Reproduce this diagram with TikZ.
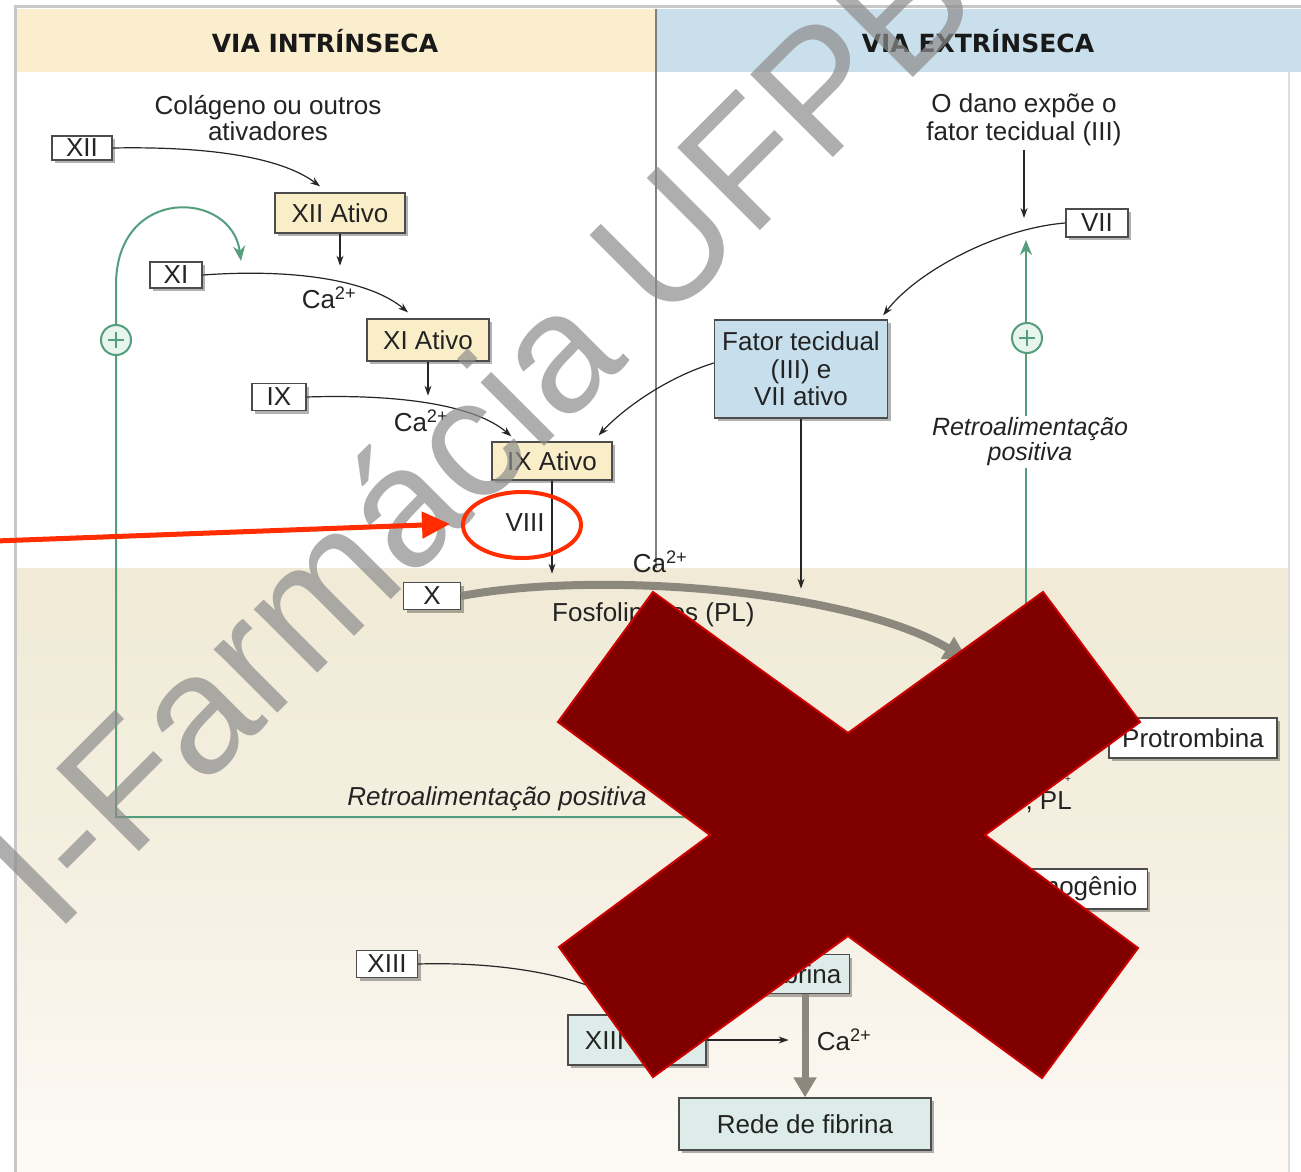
\documentclass[tikz,border=0pt]{standalone}
\usepackage{fontspec}
\setmainfont{Liberation Sans}
\newfontfamily\hdrfont{DejaVu Sans}
\newfontfamily\wmfont{Liberation Sans}
\usetikzlibrary{arrows.meta,shadows,shapes.geometric,calc}
\definecolor{hdrL}{RGB}{251,238,206}
\definecolor{hdrR}{RGB}{201,223,235}
\definecolor{tanT}{RGB}{240,234,214}
\definecolor{tanM}{RGB}{245,239,225}
\definecolor{tanB}{RGB}{253,250,246}
\definecolor{boxY}{RGB}{250,238,200}
\definecolor{boxB}{RGB}{199,222,236}
\definecolor{boxG}{RGB}{221,236,233}
\definecolor{fb}{RGB}{84,158,126}
\definecolor{fbL}{RGB}{232,245,238}
\definecolor{redA}{RGB}{255,45,0}
\definecolor{xred}{RGB}{128,0,0}
\definecolor{xedge}{RGB}{205,0,0}
\definecolor{thick}{RGB}{140,136,126}
\definecolor{frameC}{RGB}{200,200,200}
\definecolor{txt}{RGB}{35,35,35}
\definecolor{wmC}{RGB}{140,140,140}
\begin{document}
\begin{tikzpicture}[x=1pt,y=-1pt,
  every node/.style={font=\fontsize{26}{30}\selectfont, text=txt},
  shad/.style={drop shadow={shadow xshift=3pt,shadow yshift=-3pt,opacity=0.3,fill=black}},
  fbox/.style={shad, draw=black!70, line width=1.3pt, fill=white, inner sep=0pt},
  ybox/.style={fbox, fill=boxY},
  bbox/.style={fbox, fill=boxB},
  gbox/.style={fbox, fill=boxG},
  arr/.style={draw=black!85, line width=1.2pt, -{Stealth[length=10pt,width=7pt]}},
  thickarr/.style={draw=thick, line width=8pt, -{Triangle[length=24pt,width=24pt]}},
  fbline/.style={draw=fb, line width=2pt},
  fbplus/.style={circle, draw=fb, line width=2pt, fill=fbL, minimum size=30pt, inner sep=0pt},
  lbl/.style={inner sep=1pt},
  hdr/.style={font=\hdrfont\bfseries\fontsize{25}{25}\selectfont, text=black!90},
]
\useasboundingbox (0,0) rectangle (1301,1172);
\begin{scope}
\clip (0,0) rectangle (1301,1172);
% background
\fill[white] (0,0) rectangle (1301,1172);
\shade[top color=tanT, bottom color=tanM] (15,568) rectangle (1289,860);
\shade[top color=tanM, bottom color=tanB] (15,860) rectangle (1289,1172);
\fill[hdrL] (15,9) rectangle (656,72);
\fill[hdrR] (656,9) rectangle (1301,72);
\draw[frameC, line width=3pt] (15,1172) -- (15,7) -- (1301,7);
\draw[frameC!60, line width=2pt] (1289,72) -- (1289,1172);
\draw[black!50, line width=1.5pt] (656,9) -- (656,568);

% headers
\node[hdr] (hdrI) at (325,41) {VIA INTRÍNSECA};
\node[hdr] (hdrE) at (978,41) {VIA EXTRÍNSECA};

% intrinsic nodes
\node[align=center, font=\fontsize{26}{26}\selectfont] (col) at (268,118) {Colágeno ou outros\\ativadores};
\node[fbox, minimum width=60pt, minimum height=24pt] (xii) at (82,148) {XII};
\node[ybox, minimum width=130pt, minimum height=40pt] (xiia) at (340,213) {XII Ativo};
\node[fbox, minimum width=52pt, minimum height=26pt] (xi) at (176,275) {XI};
\node[lbl] (ca1) at (329,298) {Ca\textsuperscript{2+}};
\node[ybox, minimum width=122pt, minimum height=42pt] (xia) at (428,340) {XI Ativo};
\node[fbox, minimum width=54pt, minimum height=27pt] (ix) at (279,397) {IX};
\node[lbl] (ca2) at (421,421) {Ca\textsuperscript{2+}};
\node[ybox, minimum width=120pt, minimum height=38pt] (ixa) at (552,461) {IX Ativo};
\node[lbl] (viii) at (525,523) {VIII};

% extrinsic nodes
\node[align=center, font=\fontsize{26}{28}\selectfont] (dano) at (1024,120) {O dano expõe o\\fator tecidual (III)};
\node[fbox, minimum width=62pt, minimum height=28pt] (vii) at (1097,223) {VII};
\node[bbox, minimum width=173pt, minimum height=98pt, align=center, font=\fontsize{26}{27.5}\selectfont] (fator) at (801,369) {Fator tecidual\\(III) e\\VII ativo};

% common pathway nodes
\node[fbox, minimum width=57pt, minimum height=27pt] (xbox) at (432,596) {X};
\node[lbl] (ca3) at (660,562) {Ca\textsuperscript{2+}};
\node[lbl, anchor=west] (fosf) at (551,615) {Fosfolipídios (PL)};
\node[fbox, minimum width=168pt, minimum height=40pt] (protr) at (1193,738) {Protrombina};
\node[lbl, anchor=east] (pl) at (1073,802) {, PL};
\node[lbl, font=\fontsize{10}{10}\selectfont] (plsup) at (1068,780) {+};
\node[fbox, anchor=east, minimum height=40pt, inner xsep=10pt] (fibg) at (1148,889) {Fibrinogênio};
\node[fbox, minimum width=61pt, minimum height=27pt] (xiii) at (387,964) {XIII};
\node[gbox, anchor=east, minimum height=39pt, inner xsep=8pt] (fibr) at (850,974) {Fibrina};
\node[gbox, minimum width=138pt, minimum height=50pt] (xiiia) at (637,1040) {XIII Ativo};
\node[lbl] (ca4) at (844,1040) {Ca\textsuperscript{2+}};
\node[gbox, minimum width=252pt, minimum height=52pt] (rede) at (805,1124) {Rede de fibrina};

% feedback loops
\coordinate (fbLbot) at (116,817);
\coordinate (fbLend) at (790,817);
\coordinate (fbLtop) at (116,285);
\coordinate (fbLtip) at (241,261);
\draw[fbline, -{Stealth[length=15pt,width=12pt]}] (fbLend) -- (fbLbot) -- (fbLtop) .. controls (116,185) and (232,190) .. (fbLtip);
\node[fbplus] (plusL) at (116,340) {};
\draw[fb, line width=2pt] ($(plusL)+(-8,0)$) -- ($(plusL)+(8,0)$) ($(plusL)+(0,-8)$) -- ($(plusL)+(0,8)$);
\node[lbl, font=\itshape\fontsize{26}{26}\selectfont] (retroB) at (497,799) {Retroalimentação positiva};

\coordinate (fbRbot) at (1026,785);
\coordinate (fbRtip) at (1026,240);
\draw[fbline, -{Stealth[length=15pt,width=12pt]}] (fbRbot) -- (fbRtip);
\node[fbplus] (plusR) at (1027,338) {};
\draw[fb, line width=2pt] ($(plusR)+(-8,0)$) -- ($(plusR)+(8,0)$) ($(plusR)+(0,-8)$) -- ($(plusR)+(0,8)$);
\node[align=center, fill=white, inner sep=2pt, font=\itshape\fontsize{25}{25}\selectfont] (retroR) at (1030,442) {Retroalimentação\\positiva};

% black connectors
\draw[arr] (xii.east) .. controls (220,146) and (285,160) .. ($(xiia.north)+(-20,-6)$);
\draw[arr] (xiia.south) -- ($(xiia.south)+(0,32)$);
\draw[arr] (xi.east) .. controls (300,268) and (372,282) .. ($(xia.north)+(-20,-6)$);
\draw[arr] (xia.south) -- ($(xia.south)+(0,34)$);
\draw[arr] (ix.east) .. controls (400,394) and (475,405) .. ($(ixa.north west)+(20,-5)$);
\draw[arr] ($(fator.west)+(0,-6)$) .. controls (665,378) and (622,410) .. ($(ixa.north east)+(-14,-6)$);
\draw[arr] (ixa.south) -- ($(ixa.south)+(0,93)$);
\draw[arr] (dano.south) -- ($(dano.south |- vii.west)+(0,-5)$);
\draw[arr] (vii.west) .. controls (1000,228) and (918,270) .. ($(fator.north east)+(-5,-4)$);
\draw[arr] (fator.south) -- ($(fator.south)+(0,170)$);
\coordinate (thkend) at (968,660);
\draw[thickarr] (xbox.east) .. controls (600,570) and (850,590) .. (thkend);
\draw[arr] (xiii.east) .. controls (520,961) and (600,982) .. ($(xiiia.north)+(0,-2)$);
\coordinate (hidA) at (640,1000);
\coordinate (tipA) at (561,949);
\draw[arr] (hidA) -- (tipA);
\draw[arr] (xiiia.east) -- ($(xiiia.east)+(82,0)$);
\draw[draw=thick, line width=7pt, -{Triangle[length=20pt,width=22pt]}] (rede.north |- fibr.south) -- (rede.north);

% watermark
\node[rotate=45, anchor=base, inner sep=0pt, font=\wmfont\fontsize{170}{170}\selectfont, text=wmC, text opacity=0.7] (wm) at (520,471) {I-Farmácia UFPB};

% red annotation
\coordinate (rs) at (-4,541);
\coordinate (rt) at (450,524);
\draw[redA, line width=5pt, -{Triangle[length=28pt,width=26pt]}] (rs) -- (rt);
\node[ellipse, draw=redA, line width=4pt, minimum width=118pt, minimum height=66pt] (ell) at (522,525) {};

% big X
\filldraw[fill=xred, draw=xedge, line width=2pt, line join=miter] (653,592) -- (848,733) -- (1043,592) -- (1140,722) -- (985,835) -- (1138,948) -- (1042,1078) -- (848,936) -- (653,1077) -- (559,947) -- (710,835) -- (558,722) -- cycle;
\end{scope}
\end{tikzpicture}
\end{document}
